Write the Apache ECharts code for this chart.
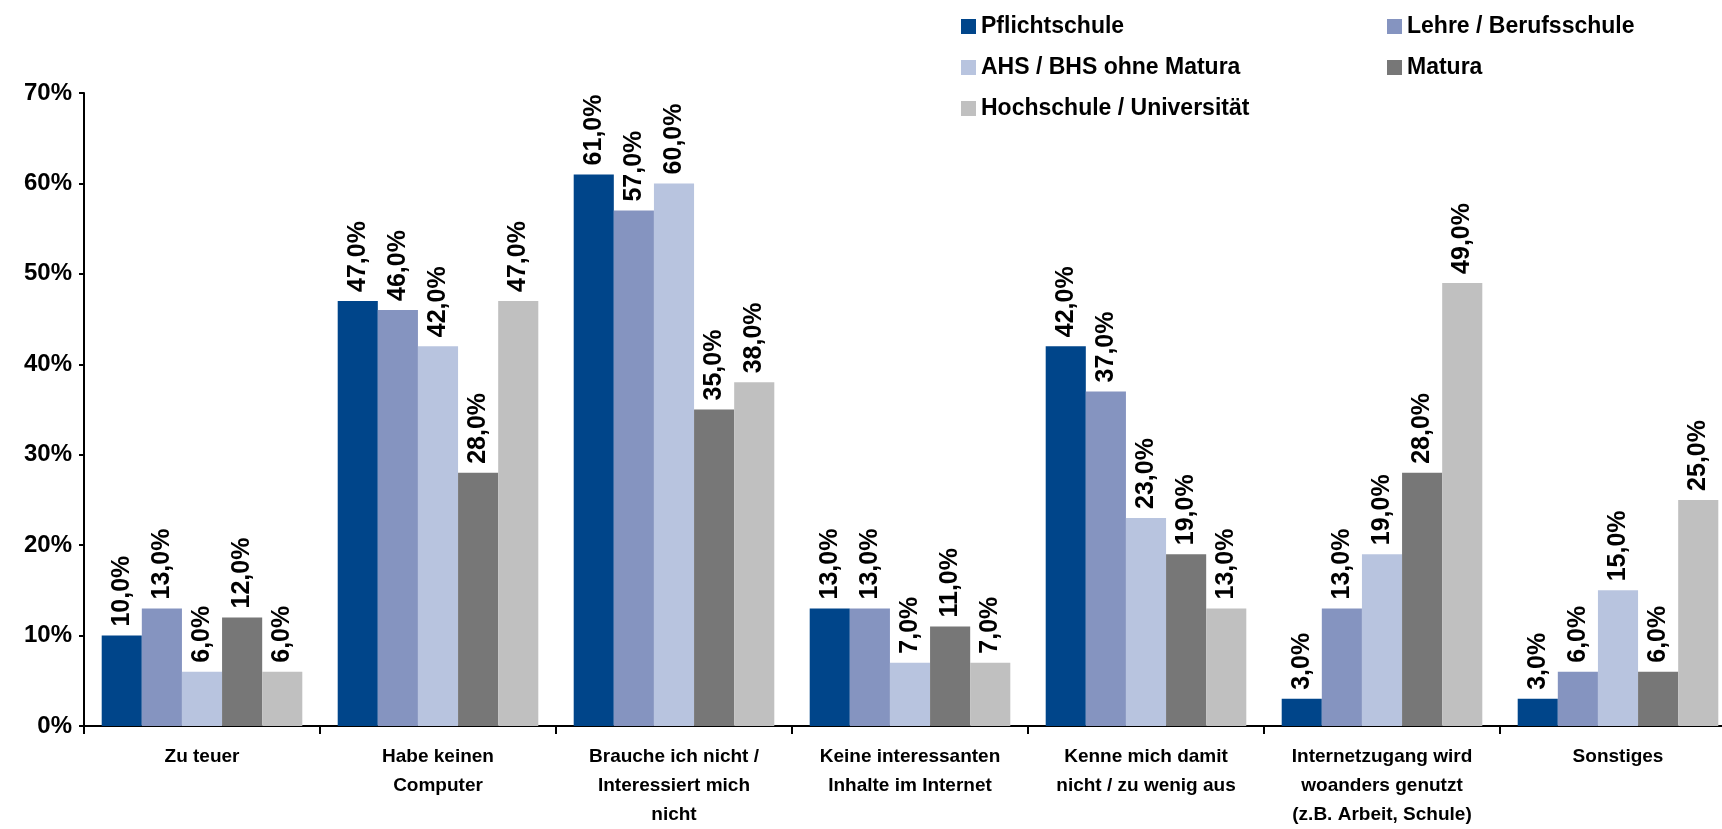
<!DOCTYPE html>
<html><head><meta charset="utf-8">
<script src="https://cdn.jsdelivr.net/npm/echarts@6/dist/echarts.min.js"></script>
<style>html,body{margin:0;padding:0;background:#fff;overflow:hidden;width:1722px;height:829px}#c{width:1740px;height:829px}</style>
</head><body><div id="c"></div>
<script>
const categories = [
  "Zu teuer",
  "Habe keinen\nComputer",
  "Brauche ich nicht /\nInteressiert mich\nnicht",
  "Keine interessanten\nInhalte im Internet",
  "Kenne mich damit\nnicht / zu wenig aus",
  "Internetzugang wird\nwoanders genutzt\n(z.B. Arbeit, Schule)",
  "Sonstiges"
];
const seriesNames = ["Pflichtschule","Lehre / Berufsschule","AHS / BHS ohne Matura","Matura","Hochschule / Universität"];
const pflichtschule = [10,47,61,13,42,3,3];
const lehre = [13,46,57,13,37,13,6];
const ahs = [6,42,60,7,23,19,15];
const matura = [12,28,35,11,19,28,6];
const hochschule = [6,47,38,7,13,49,25];
const yTicks = [0,10,20,30,40,50,60,70];
const colors = ["#00458A","#8594C0","#B8C4DF","#777777","#C0C0C0"];
const values = [pflichtschule, lehre, ahs, matura, hochschule];

const chart = echarts.init(document.getElementById('c'));
const series = values.map((d,i)=>({
  name: seriesNames[i], type:'bar', data:d, barGap:'0%', barCategoryGap:'15%',
  itemStyle:{color:colors[i]},
  label:{show:true, position:'top', rotate:90, align:'left', verticalAlign:'middle', distance:9,
    fontFamily:'Liberation Sans', fontWeight:'bold', fontSize:25, color:'#000',
    formatter:p=>p.value.toFixed(1).replace('.',',')+'%'}
}));
const legendText = {fontFamily:'Liberation Sans', fontWeight:'bold', fontSize:23, color:'#000'};
chart.setOption({
  animation:false,
  legend:[
    {left:956, top:10, orient:'vertical', itemGap:18, itemWidth:15, itemHeight:15, icon:'rect',
     data:[seriesNames[0],seriesNames[2],seriesNames[4]], textStyle:legendText},
    {left:1382, top:10, orient:'vertical', itemGap:18, itemWidth:15, itemHeight:15, icon:'rect',
     data:[seriesNames[1],seriesNames[3]], textStyle:legendText}
  ],
  grid:{left:84, right:4, top:93, height:635, containLabel:false},
  xAxis:{type:'category', data:categories,
    axisLine:{lineStyle:{color:'#000', width:2}},
    axisTick:{show:true, length:8, lineStyle:{color:'#000', width:2}},
    axisLabel:{interval:0, fontFamily:'Liberation Sans', fontWeight:'bold', fontSize:19, color:'#000', lineHeight:29, margin:16}},
  yAxis:{type:'value', min:0, max:70, interval:10,
    splitLine:{show:false},
    axisLine:{show:true, lineStyle:{color:'#000', width:2}},
    axisTick:{show:true, length:5, lineStyle:{color:'#000', width:2}},
    axisLabel:{fontFamily:'Liberation Sans', fontWeight:'bold', fontSize:24, color:'#000', margin:12,
      formatter:v=>yTicks.includes(v)? v+'%' : ''}},
  series: series
});
</script></body></html>
